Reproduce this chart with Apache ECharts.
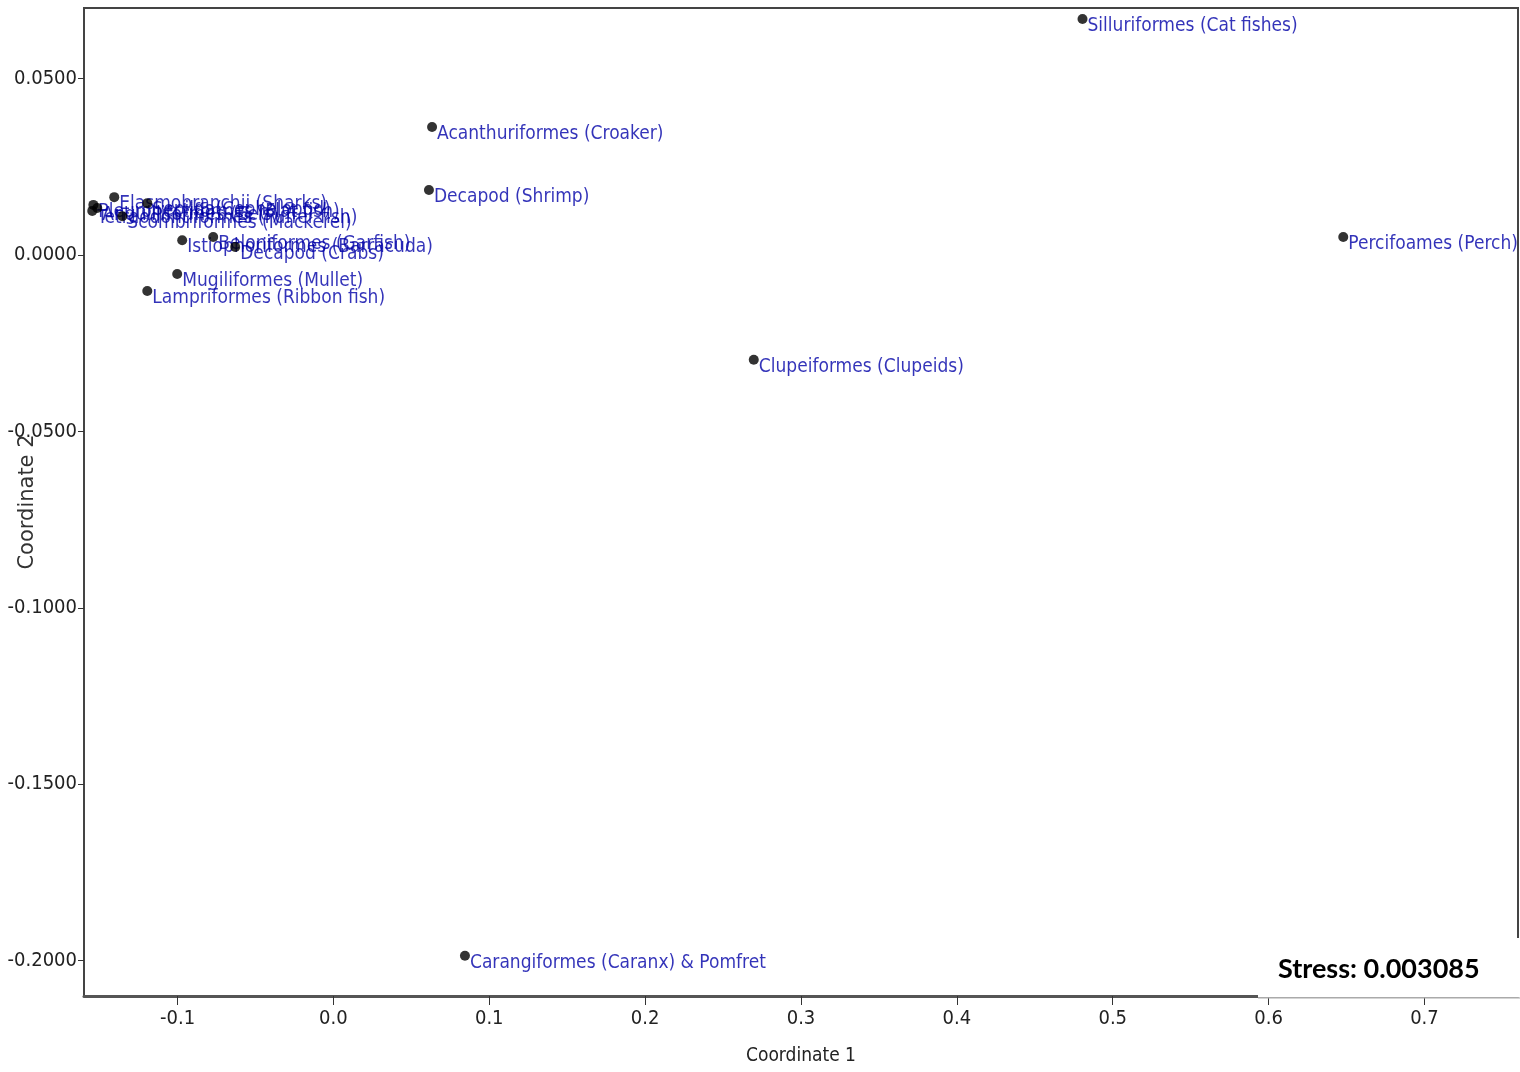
<!DOCTYPE html>
<html>
<head>
<meta charset="utf-8">
<title>nMDS ordination of landed taxa</title>
<script src="https://cdn.jsdelivr.net/npm/echarts@6/dist/echarts.min.js"></script>
<style>
  html, body { margin: 0; padding: 0; background: #ffffff; }
  #chart { width: 1520px; height: 1072px; }
</style>
</head>
<body>
<div id="chart"></div>
<script>
// Taxa and their nMDS coordinates
const taxa = [
  'Silluriformes (Cat fishes)',
  'Acanthuriformes (Croaker)',
  'Decapod (Shrimp)',
  'Percifoames (Perch)',
  'Clupeiformes (Clupeids)',
  'Carangiformes (Caranx) & Pomfret',
  'Sepiida(Cephalopod)',
  'Lampriformes (Ribbon fish)',
  'Mugiliformes (Mullet)',
  'Istiophoriformes (Barracuda)',
  'Beloniformes (Garfish)',
  'Decapod (Crabs)',
  'Pleuronectiformes (Flat fish)',
  'Anguilliformes (Eels)',
  'Tetraodontiformes (Puffer fish)',
  'Elasmobranchii (Sharks)',
  'Scombriformes (Mackerel)'
];
const coord1 = [0.4806, 0.0633, 0.0613, 0.6479, 0.2697, 0.0844, -0.1194, -0.1194, -0.1002,
                -0.0970, -0.0771, -0.0630, -0.1540, -0.1515, -0.1547, -0.1406, -0.1354];
const coord2 = [0.0669, 0.0363, 0.0184, 0.0051, -0.0297, -0.1986, 0.0147, -0.0102, -0.0054,
                0.0042, 0.0051, 0.0023, 0.0142, 0.0133, 0.0125, 0.0164, 0.0110];

// Axis tick values
const xTicks = [-0.1, 0.0, 0.1, 0.2, 0.3, 0.4, 0.5, 0.6, 0.7];
const yTicks = [-0.2, -0.15, -0.1, -0.05, 0.0, 0.05];

const stressText = 'Stress: 0.003085';

const points = taxa.map((name, i) => ({ name: name, value: [coord1[i], coord2[i]] }));

const narrow = "'DejaVu Sans Condensed', 'Liberation Sans', sans-serif";

const chart = echarts.init(document.getElementById('chart'), null, { renderer: 'canvas' });

chart.setOption({
  animation: false,
  backgroundColor: '#ffffff',
  grid: {
    left: 84, right: 2, top: 8, bottom: 76,
    containLabel: false,
    outerBoundsMode: 'none',
    show: true, borderColor: '#444444', borderWidth: 2, backgroundColor: 'transparent'
  },
  xAxis: {
    type: 'value',
    min: -0.16, max: 0.76,
    name: 'Coordinate 1',
    nameLocation: 'middle',
    nameGap: 51,
    nameMoveOverlap: false,
    nameTextStyle: { fontFamily: narrow, fontSize: 19, color: '#222222' },
    splitLine: { show: false },
    axisLine: { show: true, onZero: false, lineStyle: { color: '#555555', width: 3 } },
    axisTick: { show: true, customValues: xTicks, length: 9, lineStyle: { color: '#333333', width: 1 } },
    axisLabel: {
      customValues: xTicks, margin: 13,
      fontFamily: narrow, fontSize: 20, color: '#222222',
      formatter: v => v.toFixed(1)
    }
  },
  yAxis: {
    type: 'value',
    min: -0.21, max: 0.07,
    name: 'Coordinate 2',
    nameLocation: 'middle',
    nameGap: 46,
    nameRotate: 90,
    nameMoveOverlap: false,
    nameTextStyle: { fontFamily: "'DejaVu Sans', sans-serif", fontSize: 21, color: '#333333' },
    splitLine: { show: false },
    axisLine: { show: true, onZero: false, lineStyle: { color: '#444444', width: 2 } },
    axisTick: { show: true, customValues: yTicks, length: 6, lineStyle: { color: '#333333', width: 1 } },
    axisLabel: {
      customValues: yTicks, margin: 7,
      fontFamily: narrow, fontSize: 20, color: '#222222',
      formatter: v => v.toFixed(4)
    }
  },
  series: [
    {
      // taxon labels, drawn beneath the markers
      type: 'scatter',
      z: 1,
      data: points,
      symbolSize: 10,
      itemStyle: { color: 'rgba(0,0,0,0)' },
      label: {
        show: true,
        position: 'right',
        distance: 0,
        offset: [0, 7],
        formatter: p => p.name,
        fontFamily: narrow,
        fontSize: 19,
        color: '#0000a8'
      },
      emphasis: { disabled: true }
    },
    {
      // black markers on top
      type: 'scatter',
      z: 5,
      data: points,
      symbol: 'circle',
      symbolSize: 10,
      itemStyle: { color: '#000000' },
      label: { show: false },
      emphasis: { disabled: true }
    }
  ],
  graphic: [
    {
      type: 'rect',
      z: 100,
      shape: { x: 1258, y: 938, width: 262, height: 59.5 },
      style: { fill: '#ffffff' }
    },
    {
      type: 'line',
      z: 100,
      shape: { x1: 1258, y1: 998, x2: 1520, y2: 998 },
      style: { stroke: '#aaaaaa', lineWidth: 1 }
    },
    {
      type: 'text',
      z: 101,
      x: 1278, y: 969,
      style: {
        text: stressText,
        fontFamily: "Lato, 'Open Sans', sans-serif",
        fontWeight: 'bold',
        fontSize: 27,
        fill: '#000000',
        verticalAlign: 'middle',
        align: 'left'
      }
    }
  ]
});
</script>
</body>
</html>
